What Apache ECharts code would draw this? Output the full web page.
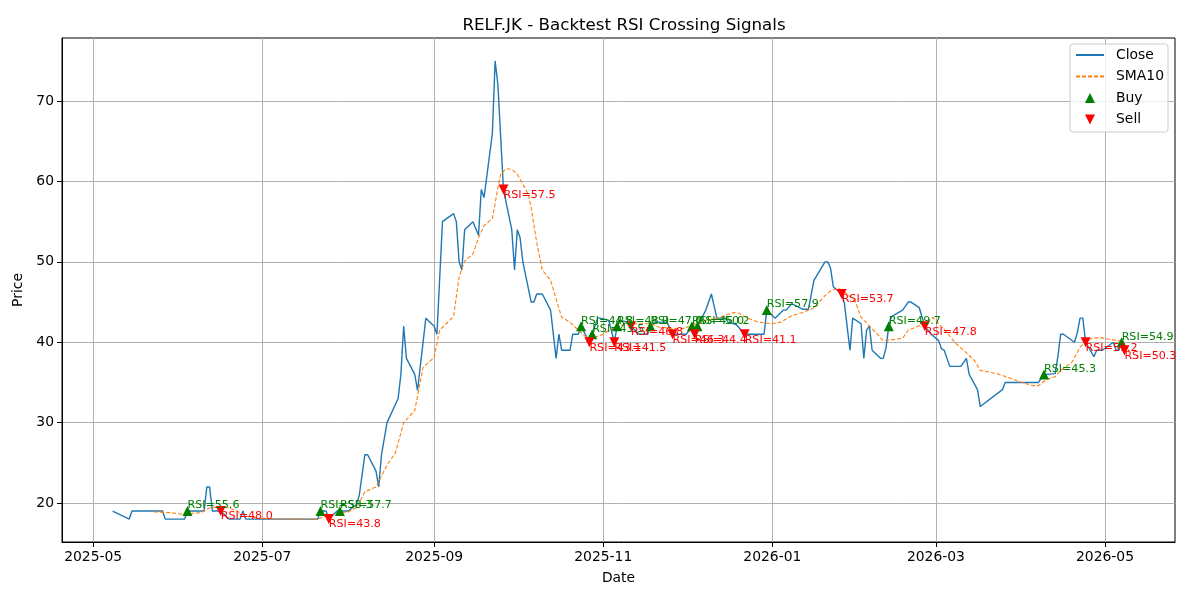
<!DOCTYPE html>
<html>
<head>
<meta charset="utf-8">
<title>RELF.JK - Backtest RSI Crossing Signals</title>
<script src="https://cdn.jsdelivr.net/npm/echarts@6.0.0/dist/echarts.min.js"></script>
<style>
    html, body { margin: 0; padding: 0; background: #fff; }
    #main { width: 1200px; height: 600px; }
</style>
</head>
<body>
<div id="main"></div>
<script>
// price data
var closeDates = [
    '2025-05-08', '2025-05-14', '2025-05-15', '2025-05-26', '2025-05-27', '2025-06-03', '2025-06-04', '2025-06-10',
    '2025-06-11', '2025-06-12', '2025-06-13', '2025-06-16', '2025-06-19', '2025-06-23', '2025-06-24', '2025-06-25',
    '2025-07-21', '2025-07-22', '2025-07-24', '2025-07-25', '2025-07-28', '2025-07-29', '2025-08-01', '2025-08-04',
    '2025-08-05', '2025-08-07', '2025-08-08', '2025-08-11', '2025-08-12', '2025-08-13', '2025-08-15', '2025-08-19',
    '2025-08-20', '2025-08-21', '2025-08-22', '2025-08-25', '2025-08-26', '2025-08-29', '2025-09-01', '2025-09-02',
    '2025-09-04', '2025-09-08', '2025-09-09', '2025-09-10', '2025-09-11', '2025-09-12', '2025-09-15', '2025-09-17',
    '2025-09-18', '2025-09-19', '2025-09-22', '2025-09-23', '2025-09-24', '2025-09-26', '2025-09-29', '2025-09-30',
    '2025-10-01', '2025-10-02', '2025-10-03', '2025-10-06', '2025-10-07', '2025-10-08', '2025-10-10', '2025-10-13',
    '2025-10-15', '2025-10-16', '2025-10-17', '2025-10-20', '2025-10-21', '2025-10-23', '2025-10-24', '2025-10-27',
    '2025-10-28', '2025-10-30', '2025-10-31', '2025-11-03', '2025-11-05', '2025-11-06', '2025-11-07', '2025-11-10',
    '2025-11-11', '2025-11-14', '2025-11-17', '2025-11-18', '2025-11-20', '2025-11-24', '2025-11-26', '2025-12-01',
    '2025-12-03', '2025-12-04', '2025-12-05', '2025-12-08', '2025-12-10', '2025-12-11', '2025-12-12', '2025-12-15',
    '2025-12-16', '2025-12-19', '2025-12-22', '2025-12-29', '2025-12-30', '2026-01-02', '2026-01-05', '2026-01-06',
    '2026-01-08', '2026-01-12', '2026-01-14', '2026-01-16', '2026-01-20', '2026-01-21', '2026-01-22', '2026-01-23',
    '2026-01-26', '2026-01-27', '2026-01-29', '2026-01-30', '2026-02-02', '2026-02-03', '2026-02-04', '2026-02-05',
    '2026-02-06', '2026-02-09', '2026-02-10', '2026-02-11', '2026-02-12', '2026-02-13', '2026-02-17', '2026-02-19',
    '2026-02-20', '2026-02-23', '2026-02-25', '2026-02-27', '2026-03-02', '2026-03-03', '2026-03-04', '2026-03-06',
    '2026-03-10', '2026-03-12', '2026-03-13', '2026-03-16', '2026-03-17', '2026-03-25', '2026-03-26', '2026-04-07',
    '2026-04-08', '2026-04-09', '2026-04-10', '2026-04-13', '2026-04-14', '2026-04-15', '2026-04-16', '2026-04-20',
    '2026-04-21', '2026-04-22', '2026-04-23', '2026-04-24', '2026-04-27', '2026-04-28', '2026-04-30', '2026-05-04',
    '2026-05-05', '2026-05-06', '2026-05-07', '2026-05-08'
];
var closeValues = [
    19, 18, 19, 19, 18, 18, 19, 19,
    22, 22, 19, 19, 18, 18, 19, 18,
    18, 19, 19, 18, 19, 19, 19, 19.8,
    21, 26, 26, 24, 22, 26, 30, 33,
    36, 42, 38, 36, 34, 43, 42, 41,
    55, 56, 55, 50, 49, 54, 55, 53.3,
    59, 58, 66, 75, 72, 59, 54, 49,
    54, 53, 50, 45, 45, 46, 46, 44,
    38, 41, 39, 39, 41, 41, 42, 40,
    41, 43, 43, 42.7, 40, 42, 42.7, 42.5,
    42, 41, 41, 42, 42.5, 42.5, 41, 41,
    42, 41, 42, 44, 46, 44.5, 43, 43,
    42.5, 42.2, 41, 41, 44, 43, 44, 44,
    44.8, 44.1, 44.1, 47.7, 50, 50, 49.2, 46.9,
    46, 44.8, 39, 43, 42.3, 38, 41.5, 42,
    39, 38, 38, 39.3, 42, 43.2, 44, 45,
    45, 44.3, 42, 41.1, 40.2, 39.2, 39, 37,
    37, 38, 36, 34.1, 32, 34.1, 35, 35,
    35.5, 36, 36, 36.1, 38.2, 41, 41, 40,
    41.2, 43, 43, 40, 38.2, 39, 39, 40,
    39, 39, 40, 39
];

var smaDates = [
    '2025-05-23', '2025-05-29', '2025-06-02', '2025-06-09', '2025-06-12', '2025-06-15', '2025-06-19', '2025-06-23',
    '2025-06-26', '2025-07-01', '2025-07-21', '2025-07-25', '2025-07-29', '2025-08-01', '2025-08-04', '2025-08-07',
    '2025-08-11', '2025-08-15', '2025-08-18', '2025-08-21', '2025-08-25', '2025-08-28', '2025-09-01', '2025-09-03',
    '2025-09-08', '2025-09-10', '2025-09-12', '2025-09-15', '2025-09-17', '2025-09-19', '2025-09-22', '2025-09-24',
    '2025-09-25', '2025-09-27', '2025-09-29', '2025-10-01', '2025-10-05', '2025-10-06', '2025-10-08', '2025-10-10',
    '2025-10-13', '2025-10-15', '2025-10-17', '2025-10-20', '2025-10-23', '2025-10-26', '2025-10-28', '2025-11-01',
    '2025-11-03', '2025-11-07', '2025-11-10', '2025-11-14', '2025-11-18', '2025-11-21', '2025-11-26', '2025-11-30',
    '2025-12-03', '2025-12-08', '2025-12-13', '2025-12-18', '2025-12-20', '2025-12-23', '2025-12-27', '2026-01-01',
    '2026-01-04', '2026-01-08', '2026-01-12', '2026-01-16', '2026-01-20', '2026-01-22', '2026-01-25', '2026-01-28',
    '2026-01-31', '2026-02-02', '2026-02-06', '2026-02-10', '2026-02-13', '2026-02-17', '2026-02-19', '2026-02-22',
    '2026-02-26', '2026-02-28', '2026-03-02', '2026-03-05', '2026-03-08', '2026-03-11', '2026-03-15', '2026-03-17',
    '2026-03-23', '2026-03-28', '2026-04-01', '2026-04-05', '2026-04-07', '2026-04-10', '2026-04-13', '2026-04-15',
    '2026-04-19', '2026-04-22', '2026-04-25', '2026-04-29', '2026-05-02', '2026-05-06', '2026-05-08'
];
var smaValues = [
    18.9, 18.8, 18.6, 18.8, 19.4, 19.5, 19.4, 18.8,
    18.3, 18.05, 18, 18.5, 18.8, 18.9, 19.4, 21.4,
    22, 24.7, 26.2, 30, 31.5, 36.9, 38.1, 41.5,
    43.2, 48.1, 50.1, 51, 53, 54.5, 55.4, 59.2,
    60.9, 61.6, 61.5, 60.9, 58.4, 56.7, 52.4, 49,
    47.7, 45.4, 43.1, 42.5, 41.5, 40.6, 40.5, 41,
    41.5, 42.1, 42.3, 42.3, 42.3, 41.9, 41.7, 41.7,
    42.1, 42.7, 43.1, 43.7, 43.6, 43, 42.5, 42.3,
    42.5, 43.3, 43.7, 44.3, 45.8, 46.4, 46.7, 46,
    45, 43.1, 41.7, 40.2, 40.3, 40.5, 41.5, 41.9,
    42.5, 43.1, 42.3, 41.2, 39.9, 39, 37.7, 36.5,
    36.1, 35.5, 35, 34.6, 34.6, 35.4, 35.7, 36.5,
    37.5, 39.4, 40.4, 40.6, 40.4, 40.2, 40
];

// signals
var buyDates = ['2025-06-04', '2025-07-22', '2025-07-29', '2025-10-24', '2025-10-28', '2025-11-06', '2025-11-18',
    '2025-12-03', '2025-12-05', '2025-12-30', '2026-02-12', '2026-04-09', '2026-05-07'];
var buyPrices = [19, 19, 19, 42, 41, 42, 42, 42, 42, 44, 42, 36, 40];
var buyRsi = [55.6, 53.3, 57.7, 44.8, 43.5, 48.9, 47.0, 45.0, 50.2, 57.9, 49.7, 45.3, 54.9];

var sellDates = ['2025-06-16', '2025-07-25', '2025-09-26', '2025-10-27', '2025-11-05', '2025-11-11', '2025-11-26',
    '2025-12-04', '2025-12-22', '2026-01-26', '2026-02-25', '2026-04-24', '2026-05-08'];
var sellPrices = [19, 18, 59, 40, 40, 42, 41, 41, 41, 46, 42, 40, 39];
var sellRsi = [48.0, 43.8, 57.5, 43.1, 41.5, 46.8, 46.3, 44.4, 41.1, 53.7, 47.8, 51.2, 50.3];

var xTickLabels = ['2025-05', '2025-07', '2025-09', '2025-11', '2026-01', '2026-03', '2026-05'];
var yTicks = [20, 30, 40, 50, 60, 70];

function ts(s) {
    var p = s.split('-');
    return new Date(+p[0], +p[1] - 1, p[2] ? +p[2] : 1).getTime();
}

function pairs(dates, values) {
    return dates.map(function (d, i) { return [ts(d), values[i]]; });
}

function signals(dates, prices, rsi) {
    return dates.map(function (d, i) { return [ts(d), prices[i], rsi[i]]; });
}

var xTickValues = xTickLabels.map(ts);
var HOUR = 3600 * 1000;
var UP = 'path://M5,0L10,10L0,10Z';
var DOWN = 'path://M0,0L10,0L5,10Z';

var myChart = echarts.init(document.getElementById('main'));
var font = 'DejaVu Sans';

var option = {
    animation: false,
    textStyle: { fontFamily: font },
    title: {
        text: 'RELF.JK - Backtest RSI Crossing Signals',
        left: 619,
        textAlign: 'center',
        top: 12,
        textStyle: { fontFamily: font, fontSize: 16.7, fontWeight: 'normal', color: '#000' }
    },
    legend: {
        orient: 'vertical',
        right: 32,
        top: 44,
        data: [
            { name: 'Close', itemStyle: { opacity: 0 } },
            { name: 'SMA10', itemStyle: { opacity: 0 } },
            { name: 'Buy' },
            { name: 'Sell' }
        ],
        itemWidth: 28,
        itemHeight: 10,
        itemGap: 6.5,
        padding: [3.5, 4, 5, 5],
        backgroundColor: 'rgba(255,255,255,0.8)',
        borderColor: '#cccccc',
        borderWidth: 1,
        borderRadius: 3,
        selectedMode: false,
        textStyle: { fontFamily: font, fontSize: 13.9, color: '#000', lineHeight: 15, padding: [0, 0, 0, 7] }
    },
    grid: {
        left: 62,
        right: 25,
        top: 38,
        bottom: 58,
        show: true,
        borderColor: '#000',
        borderWidth: 1,
        backgroundColor: 'transparent'
    },
    xAxis: {
        // dates as timestamps on a value axis, ticks at the month starts
        type: 'value',
        min: ts('2025-04-19') + 18 * HOUR,
        max: ts('2026-05-26') + 6 * HOUR,
        name: 'Date',
        nameLocation: 'middle',
        nameGap: 29,
        nameTextStyle: { fontFamily: font, fontSize: 13.9, color: '#000' },
        axisLine: { show: true, onZero: false, lineStyle: { color: '#000', width: 1 } },
        axisTick: { show: true, length: 5, lineStyle: { color: '#000' }, customValues: xTickValues },
        axisLabel: {
            customValues: xTickValues,
            fontFamily: font,
            fontSize: 13.9,
            color: '#000',
            margin: 8,
            formatter: function (v) {
                var i = xTickValues.indexOf(v);
                return i >= 0 ? xTickLabels[i] : '';
            }
        },
        splitLine: { show: true, lineStyle: { color: '#b0b0b0', width: 1 } }
    },
    yAxis: {
        type: 'value',
        min: 15.15,
        max: 77.85,
        name: 'Price',
        nameLocation: 'middle',
        nameGap: 29,
        nameTextStyle: { fontFamily: font, fontSize: 13.9, color: '#000' },
        axisLine: { show: true, lineStyle: { color: '#000', width: 1 } },
        axisTick: { show: true, length: 5, lineStyle: { color: '#000' }, customValues: yTicks },
        axisLabel: { customValues: yTicks, fontFamily: font, fontSize: 13.9, color: '#000', margin: 8 },
        splitLine: { show: true, lineStyle: { color: '#b0b0b0', width: 1 } }
    },
    series: [
        {
            name: 'Close',
            type: 'line',
            symbol: 'none',
            data: pairs(closeDates, closeValues),
            lineStyle: { color: '#1f77b4', width: 1.4 },
            itemStyle: { color: '#1f77b4' },
            z: 2
        },
        {
            name: 'SMA10',
            type: 'line',
            symbol: 'none',
            data: pairs(smaDates, smaValues),
            lineStyle: { color: '#ff7f0e', width: 1.1, type: [4, 2] },
            itemStyle: { color: '#ff7f0e' },
            z: 3
        },
        {
            name: 'Buy',
            type: 'scatter',
            symbol: UP,
            symbolSize: 10,
            data: signals(buyDates, buyPrices, buyRsi),
            itemStyle: { color: 'green', opacity: 1 },
            label: {
                show: true,
                position: ['50%', '50%'],
                align: 'left',
                verticalAlign: 'bottom',
                color: 'green',
                fontFamily: font,
                fontSize: 11.1,
                formatter: function (p) { return 'RSI=' + p.value[2].toFixed(1); }
            },
            z: 4
        },
        {
            name: 'Sell',
            type: 'scatter',
            symbol: DOWN,
            symbolSize: 10,
            data: signals(sellDates, sellPrices, sellRsi),
            itemStyle: { color: 'red', opacity: 1 },
            label: {
                show: true,
                position: ['50%', '50%'],
                align: 'left',
                verticalAlign: 'top',
                color: 'red',
                fontFamily: font,
                fontSize: 11.1,
                formatter: function (p) { return 'RSI=' + p.value[2].toFixed(1); }
            },
            z: 4
        }
    ]
};
myChart.setOption(option);
</script>
</body>
</html>
